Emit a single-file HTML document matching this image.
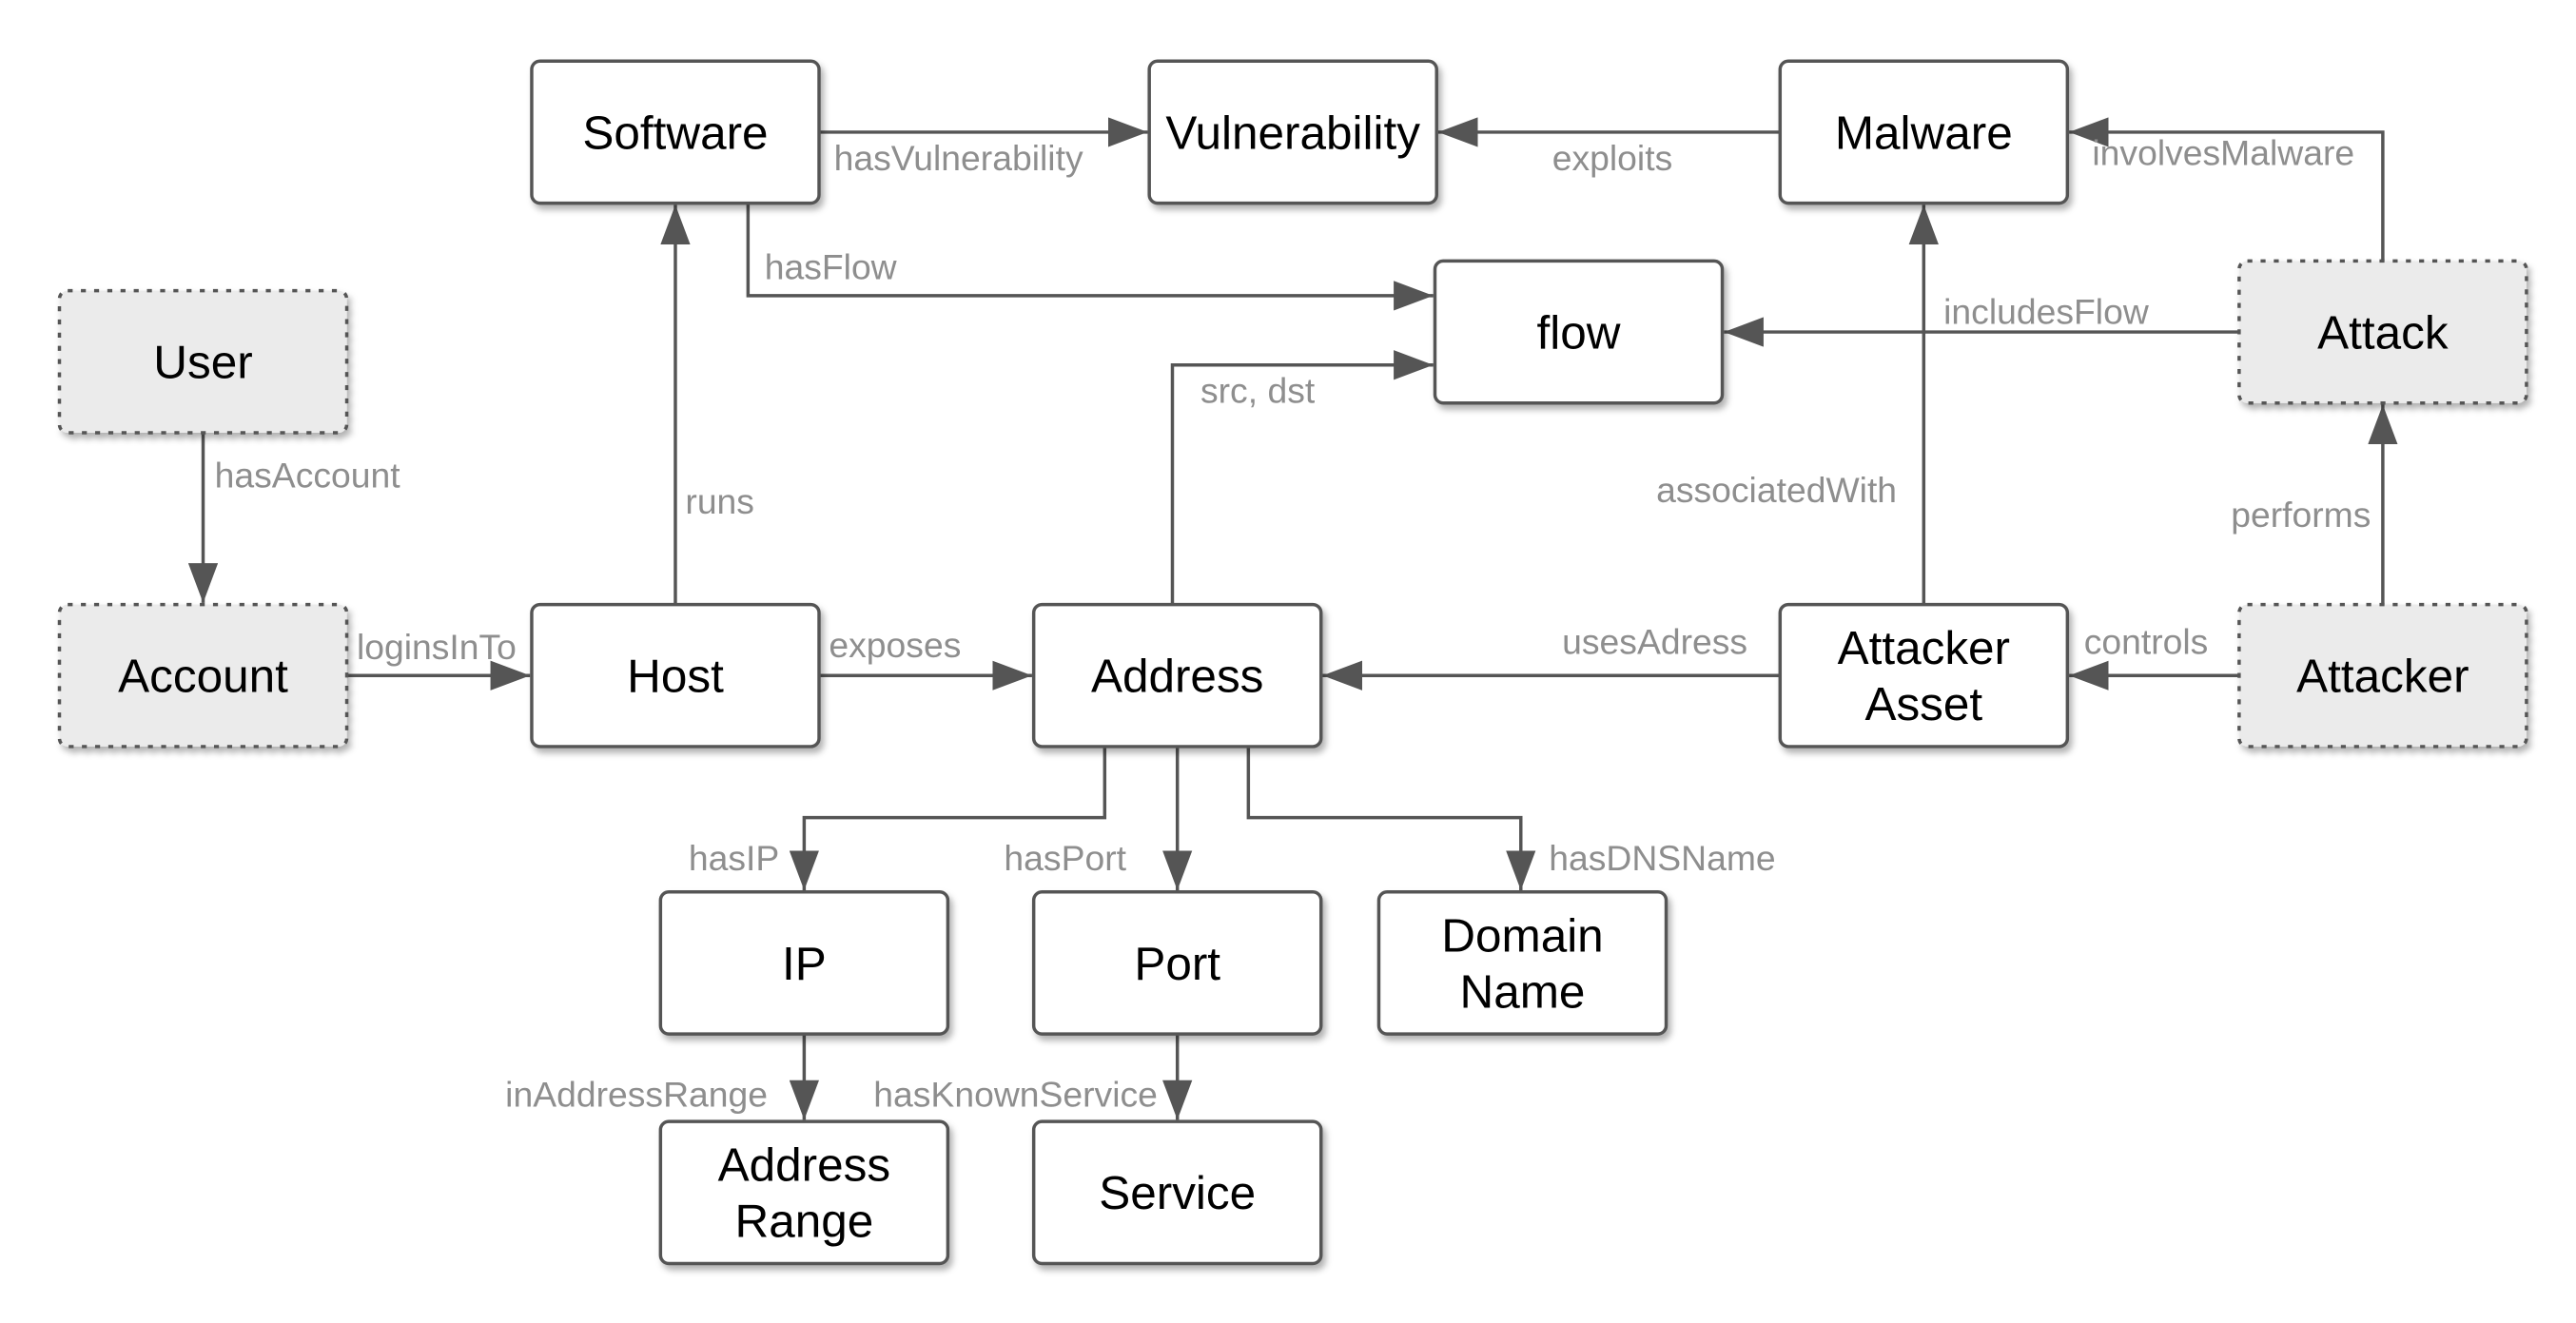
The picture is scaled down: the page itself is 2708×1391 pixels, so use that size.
<!DOCTYPE html>
<html><head><meta charset="utf-8"><style>
html,body{margin:0;padding:0;background:#fff;}
svg{display:block;}
.n{font-family:"Liberation Sans",Arial,sans-serif;font-size:28.5px;fill:#000;text-anchor:middle;}
.l{font-family:"Liberation Sans",Arial,sans-serif;font-size:21.5px;fill:#8e8e8e;}
.e{stroke:#555;stroke-width:2;fill:none;}
.b{fill:#fff;stroke:#555;stroke-width:2;}
.d{fill:#ebebeb;stroke:#555;stroke-width:2;stroke-dasharray:3 5;}
</style></head><body>
<svg width="2708" height="1391" viewBox="0 0 1560 801" preserveAspectRatio="none" xmlns="http://www.w3.org/2000/svg">
<defs>
<marker id="a" markerWidth="24" markerHeight="18" refX="24" refY="9" orient="auto" markerUnits="userSpaceOnUse"><path d="M0,0 L24,9 L0,18 Z" fill="#555"/></marker>
<filter id="s" x="-10%" y="-10%" width="130%" height="130%"><feDropShadow dx="2" dy="3" stdDeviation="2" flood-color="#000" flood-opacity="0.3"/></filter>
</defs>
<path class="e" d="M496,80 H695" marker-end="url(#a)"/>
<path class="e" d="M1078,80 H871" marker-end="url(#a)"/>
<path class="e" d="M1443,158 V80 H1253" marker-end="url(#a)"/>
<path class="e" d="M453,123 V179 H868" marker-end="url(#a)"/>
<path class="e" d="M710,366 V221 H868" marker-end="url(#a)"/>
<path class="e" d="M1356,201 H1044" marker-end="url(#a)"/>
<path class="e" d="M1165,366 V124" marker-end="url(#a)"/>
<path class="e" d="M1443,366 V245" marker-end="url(#a)"/>
<path class="e" d="M1356,409 H1253" marker-end="url(#a)"/>
<path class="e" d="M1078,409 H801" marker-end="url(#a)"/>
<path class="e" d="M123,262 V365" marker-end="url(#a)"/>
<path class="e" d="M210,409 H321" marker-end="url(#a)"/>
<path class="e" d="M409,366 V124" marker-end="url(#a)"/>
<path class="e" d="M496,409 H625" marker-end="url(#a)"/>
<path class="e" d="M669,452 V495 H487 V539" marker-end="url(#a)"/>
<path class="e" d="M713,452 V539" marker-end="url(#a)"/>
<path class="e" d="M756,452 V495 H921 V539" marker-end="url(#a)"/>
<path class="e" d="M487,626 V678" marker-end="url(#a)"/>
<path class="e" d="M713,626 V678" marker-end="url(#a)"/>
<text class="l" x="505" y="103">hasVulnerability</text>
<text class="l" x="940" y="103">exploits</text>
<text class="l" x="1267" y="100">involvesMalware</text>
<text class="l" x="463" y="169">hasFlow</text>
<text class="l" x="727" y="244">src, dst</text>
<text class="l" x="1177" y="196">includesFlow</text>
<text class="l" x="1003" y="304">associatedWith</text>
<text class="l" x="1351" y="319">performs</text>
<text class="l" x="1262" y="396">controls</text>
<text class="l" x="946" y="396">usesAdress</text>
<text class="l" x="130" y="295">hasAccount</text>
<text class="l" x="216" y="399">loginsInTo</text>
<text class="l" x="415" y="311">runs</text>
<text class="l" x="502" y="398">exposes</text>
<text class="l" x="417" y="527">hasIP</text>
<text class="l" x="608" y="527">hasPort</text>
<text class="l" x="938" y="527">hasDNSName</text>
<text class="l" x="306" y="670">inAddressRange</text>
<text class="l" x="529" y="670">hasKnownService</text>
<g filter="url(#s)">
<rect class="b" x="322" y="37" width="174" height="86" rx="5"/>
<rect class="b" x="696" y="37" width="174" height="86" rx="5"/>
<rect class="b" x="1078" y="37" width="174" height="86" rx="5"/>
<rect class="b" x="869" y="158" width="174" height="86" rx="5"/>
<rect class="d" x="36" y="176" width="174" height="86" rx="5"/>
<rect class="d" x="36" y="366" width="174" height="86" rx="5"/>
<rect class="b" x="322" y="366" width="174" height="86" rx="5"/>
<rect class="b" x="626" y="366" width="174" height="86" rx="5"/>
<rect class="b" x="1078" y="366" width="174" height="86" rx="5"/>
<rect class="d" x="1356" y="366" width="174" height="86" rx="5"/>
<rect class="d" x="1356" y="158" width="174" height="86" rx="5"/>
<rect class="b" x="400" y="540" width="174" height="86" rx="5"/>
<rect class="b" x="626" y="540" width="174" height="86" rx="5"/>
<rect class="b" x="835" y="540" width="174" height="86" rx="5"/>
<rect class="b" x="400" y="679" width="174" height="86" rx="5"/>
<rect class="b" x="626" y="679" width="174" height="86" rx="5"/>
</g>
<text class="n" x="409" y="90">Software</text>
<text class="n" x="783" y="90">Vulnerability</text>
<text class="n" x="1165" y="90">Malware</text>
<text class="n" x="956" y="211">flow</text>
<text class="n" x="123" y="229">User</text>
<text class="n" x="123" y="419">Account</text>
<text class="n" x="409" y="419">Host</text>
<text class="n" x="713" y="419">Address</text>
<text class="n" x="1165" y="402">Attacker</text>
<text class="n" x="1165" y="436">Asset</text>
<text class="n" x="1443" y="419">Attacker</text>
<text class="n" x="1443" y="211">Attack</text>
<text class="n" x="487" y="593">IP</text>
<text class="n" x="713" y="593">Port</text>
<text class="n" x="922" y="576">Domain</text>
<text class="n" x="922" y="610">Name</text>
<text class="n" x="487" y="715">Address</text>
<text class="n" x="487" y="749">Range</text>
<text class="n" x="713" y="732">Service</text>
</svg>
</body></html>
